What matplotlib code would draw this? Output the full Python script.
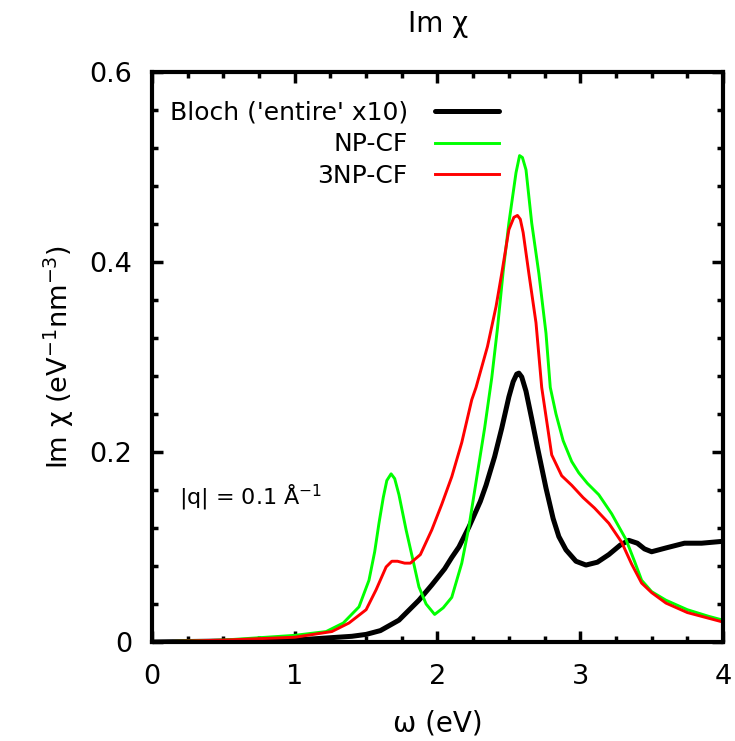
import matplotlib
matplotlib.use('Agg')
import matplotlib.pyplot as plt
from matplotlib.ticker import MultipleLocator

# Bloch ('entire' x10)
bloch_x = [0, 0.5, 1.0, 1.2, 1.4, 1.5, 1.6, 1.73, 1.87, 1.96, 2.05, 2.1, 2.15, 2.22,
           2.3, 2.34, 2.4, 2.45, 2.5, 2.53, 2.555, 2.57, 2.59, 2.62, 2.66, 2.7, 2.76,
           2.81, 2.85, 2.9, 2.97, 3.04, 3.12, 3.2, 3.28, 3.34, 3.4, 3.45, 3.5, 3.6,
           3.73, 3.85, 4.0]
bloch_y = [0.0, 0.001, 0.002, 0.004, 0.006, 0.008, 0.012, 0.023, 0.044, 0.060, 0.077,
           0.089, 0.100, 0.121, 0.148, 0.165, 0.195, 0.225, 0.258, 0.274, 0.282, 0.283,
           0.279, 0.264, 0.235, 0.205, 0.162, 0.13, 0.111, 0.097, 0.085, 0.081, 0.084,
           0.092, 0.102, 0.107, 0.104, 0.098, 0.095, 0.099, 0.104, 0.104, 0.106]

# NP-CF
np_x = [0, 0.5, 1.0, 1.22, 1.34, 1.45, 1.52, 1.56, 1.59, 1.62, 1.645, 1.675, 1.7, 1.73,
        1.78, 1.83, 1.87, 1.92, 1.98, 2.04, 2.1, 2.17, 2.22, 2.28, 2.33, 2.38, 2.42,
        2.46, 2.5, 2.55, 2.575, 2.595, 2.62, 2.66, 2.71, 2.76, 2.79, 2.83, 2.88, 2.94,
        2.99, 3.05, 3.13, 3.22, 3.32, 3.38, 3.43, 3.5, 3.6, 3.75, 3.9, 4.0]
np_y = [0.0, 0.002, 0.007, 0.011, 0.02, 0.037, 0.065, 0.095, 0.125, 0.152, 0.17, 0.177,
        0.172, 0.155, 0.118, 0.085, 0.058, 0.04, 0.029, 0.036, 0.047, 0.083, 0.121,
        0.178, 0.225, 0.278, 0.33, 0.39, 0.441, 0.494, 0.512, 0.51, 0.497, 0.441, 0.388,
        0.325, 0.268, 0.24, 0.212, 0.19, 0.178, 0.167, 0.155, 0.135, 0.108, 0.085,
        0.065, 0.053, 0.044, 0.034, 0.027, 0.023]

# 3NP-CF
np3_x = [0, 0.5, 1.0, 1.26, 1.38, 1.5, 1.57, 1.64, 1.68, 1.72, 1.77, 1.81, 1.88, 1.96,
         2.03, 2.1, 2.17, 2.24, 2.27, 2.35, 2.41, 2.45, 2.5, 2.535, 2.56, 2.58, 2.6,
         2.64, 2.69, 2.73, 2.8, 2.87, 2.94, 3.02, 3.1, 3.2, 3.29, 3.36, 3.43, 3.5, 3.6,
         3.75, 3.9, 4.0]
np3_y = [0.0, 0.002, 0.005, 0.011, 0.02, 0.034, 0.055, 0.079, 0.085, 0.085, 0.083,
         0.083, 0.092, 0.118, 0.145, 0.174, 0.21, 0.255, 0.268, 0.311, 0.353, 0.388,
         0.434, 0.447, 0.449, 0.445, 0.431, 0.388, 0.336, 0.268, 0.197, 0.175, 0.165,
         0.152, 0.141, 0.125, 0.105, 0.082, 0.062, 0.052, 0.041, 0.031, 0.025, 0.021]

plt.rcParams['font.family'] = ['DejaVu Sans']

fig = plt.figure(figsize=(7.35, 7.41), dpi=100)
ax = fig.add_axes([152 / 735, 1 - 642 / 741, 571 / 735, 570 / 741])

ax.plot(bloch_x, bloch_y, color='black', lw=3.6, label="Bloch ('entire' x10)",
        solid_joinstyle='round', solid_capstyle='round')
ax.plot(np_x, np_y, color='#00ff00', lw=2.1, label='NP-CF', solid_joinstyle='round')
ax.plot(np3_x, np3_y, color='#ff0000', lw=2.1, label='3NP-CF', solid_joinstyle='round')

ax.set_xlim(0, 4)
ax.set_ylim(0, 0.6)
ax.xaxis.set_minor_locator(MultipleLocator(0.25))
ax.yaxis.set_minor_locator(MultipleLocator(0.04))
ax.set_xticks([0, 1, 2, 3, 4])
ax.set_xticklabels(['0', '1', '2', '3', '4'])
ax.set_yticks([0, 0.2, 0.4, 0.6])
ax.set_yticklabels(['0', '0.2', '0.4', '0.6'])

ax.tick_params(which='both', direction='in', top=True, right=True, width=2.5,
               labelsize=19.5, colors='black')
ax.tick_params(which='major', length=8)
ax.tick_params(axis='x', which='major', pad=16)
ax.tick_params(axis='y', which='major', pad=14)
ax.tick_params(which='minor', length=4.5)
for s in ax.spines.values():
    s.set_linewidth(3)

ax.set_xlabel('ω (eV)', fontsize=20, labelpad=14)
ax.set_ylabel('Im χ (eV$^{-1}$nm$^{-3}$)', fontsize=19.5, labelpad=10)
fig.text(438 / 735, 1 - 24 / 741, 'Im χ', fontsize=20, ha='center', va='center')

ax.text(0.19, 0.145, '|q| = 0.1 Å$^{-1}$', fontsize=16)

leg = ax.legend(loc='upper left', bbox_to_anchor=(0.0, 0.98), frameon=False,
                markerfirst=False, fontsize=18, handlelength=2.55, labelspacing=0.3,
                handletextpad=1.1, borderaxespad=0.3)

fig.savefig('out.png', dpi=100)
